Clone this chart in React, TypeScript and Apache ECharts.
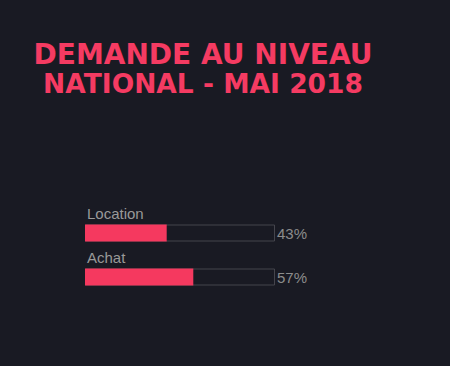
import React, { useEffect, useRef } from "react";
import * as echarts from "echarts";

const categories = ["Location", "Achat"];
const percentValues = [43, 57];
const trackValues = [100, 100];
const titleLines = ["DEMANDE AU NIVEAU", "NATIONAL - MAI 2018"];
const titleSizes = [28, 26.5];

export default function App() {
  const ref = useRef<HTMLDivElement>(null);
  useEffect(() => {
    document.body.style.margin = "0";
    document.body.style.background = "#191a23";
    const chart = echarts.init(ref.current!, null, { renderer: "svg" });
    chart.setOption({
      animation: false,
      backgroundColor: "#191a23",
      graphic: titleLines.map((t, i) => ({
        type: "text",
        x: 203,
        y: 54 + i * 29.5,
        style: {
          text: t,
          fill: "#f53b62",
          font: `bold ${titleSizes[i]}px 'DejaVu Sans'`,
          textAlign: "center",
          textVerticalAlign: "middle",
        },
      })),
      grid: { left: 85, top: 211, width: 190, height: 88 },
      xAxis: { type: "value", min: 0, max: 100, show: false },
      yAxis: { type: "category", data: categories, inverse: true, show: false },
      series: [
        {
          type: "bar",
          data: trackValues,
          barWidth: 17,
          silent: true,
          itemStyle: { color: "transparent", borderColor: "#45454d", borderWidth: 1 },
          label: {
            show: true,
            position: "right",
            distance: 2,
            formatter: (p: any) => percentValues[p.dataIndex] + "%",
            color: "#8c8c8c",
            fontFamily: "Liberation Sans",
            fontSize: 15,
          },
        },
        {
          type: "bar",
          data: percentValues,
          barWidth: 17,
          barGap: "-100%",
          silent: true,
          itemStyle: { color: "#f5395f" },
          label: {
            show: true,
            position: [2, -19],
            formatter: "{b}",
            color: "#999999",
            fontFamily: "Liberation Sans",
            fontSize: 15,
          },
        },
      ],
    });
    return () => chart.dispose();
  }, []);
  return <div ref={ref} style={{ width: 450, height: 366 }} />;
}
